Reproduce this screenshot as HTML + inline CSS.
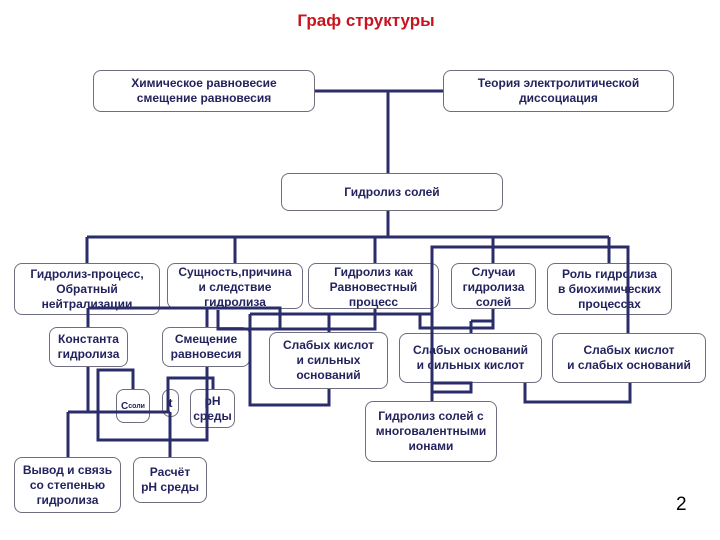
<!DOCTYPE html>
<html><head><meta charset="utf-8"><style>
body{margin:0;width:720px;height:540px;background:#fff;position:relative;overflow:hidden;font-family:"Liberation Sans",sans-serif}
.b{position:absolute;box-sizing:border-box;border:1px solid #6e6e80;border-radius:8px;background:#fff;color:#23235e;font-weight:bold;font-size:12px;line-height:15px;text-align:center;display:flex;align-items:center;justify-content:center;}
.t{position:absolute;color:#23235e;font-weight:bold;font-size:12px;line-height:15px;text-align:center;}
svg{position:absolute;left:0;top:0}
</style></head><body>
<div style="position:absolute;left:0;width:732px;top:11px;text-align:center;color:#c8141e;font-weight:bold;font-size:17px">Граф структуры</div>
<div class="b" style="left:93px;top:70px;width:222px;height:42px">Химическое равновесие<br>смещение равновесия</div>
<div class="b" style="left:443px;top:70px;width:231px;height:42px">Теория электролитической<br>диссоциация</div>
<div class="b" style="left:281px;top:173px;width:222px;height:38px">Гидролиз солей</div>
<div class="b" style="left:14px;top:263px;width:146px;height:52px">Гидролиз-процесс,<br>Обратный<br>нейтрализации</div>
<div class="b" style="left:167px;top:263px;width:136px;height:46px;align-items:flex-start;padding-top:1px">Сущность,причина<br>и следствие<br>гидролиза</div>
<div class="b" style="left:308px;top:263px;width:131px;height:46px;align-items:flex-start;padding-top:1px">Гидролиз как<br>Равновестный<br>процесс</div>
<div class="b" style="left:451px;top:263px;width:85px;height:46px;align-items:flex-start;padding-top:1px">Случаи<br>гидролиза<br>солей</div>
<div class="b" style="left:547px;top:263px;width:125px;height:52px">Роль гидролиза<br>в биохимических<br>процессах</div>
<div class="b" style="left:49px;top:327px;width:79px;height:40px">Константа<br>гидролиза</div>
<div class="b" style="left:162px;top:327px;width:88px;height:40px">Смещение<br>равновесия</div>
<div class="b" style="left:269px;top:332px;width:119px;height:57px">Слабых кислот<br>и сильных<br>оснований</div>
<div class="b" style="left:399px;top:333px;width:143px;height:50px">Слабых оснований<br>и сильных кислот</div>
<div class="b" style="left:552px;top:333px;width:154px;height:50px;font-weight:normal;font-weight:bold">Слабых кислот<br>и слабых оснований</div>
<div class="b" style="left:365px;top:401px;width:132px;height:61px">Гидролиз солей с<br>многовалентными<br>ионами</div>
<div class="b" style="left:116px;top:389px;width:34px;height:34px;font-size:10px">С<span style="font-size:7px">соли</span></div>
<div class="b" style="left:162px;top:389px;width:17px;height:28px">t</div>
<div class="b" style="left:190px;top:389px;width:45px;height:39px">pH<br>среды</div>
<div class="b" style="left:14px;top:457px;width:107px;height:56px">Вывод и связь<br>со степенью<br>гидролиза</div>
<div class="b" style="left:133px;top:457px;width:74px;height:46px">Расчёт<br>pH среды</div>
<svg width="720" height="540" fill="none" stroke="#2b2d6b" stroke-width="3">
<path d="M315 91H443M388 91V173M388 211V237M87 237H609M87 237V263M235 237V263M375 237V263M493 237V263M609 237V263"/>
<path d="M432 401V247H628V333"/>
<path d="M88 308H280V329H218V310M88 308V327M207 309V327"/>
<path d="M88 367V412M68 412H170M68 412V457M170 412V457M168 412V378H213V389"/>
<path d="M207 367V440H98V370H133V389"/>
<path d="M250 314H432M250 314V405H329V389M329 314V332M280 329H375V309M420 314V328H493V309M471 321V333M471 321H493"/>
<path d="M432 383H471V392H432M525 383V402H630V383"/>
</svg>
<div class="b" style="display:none"></div>
<div style="position:absolute;left:676px;top:494px;font-size:19px;color:#000">2</div>
</body></html>
